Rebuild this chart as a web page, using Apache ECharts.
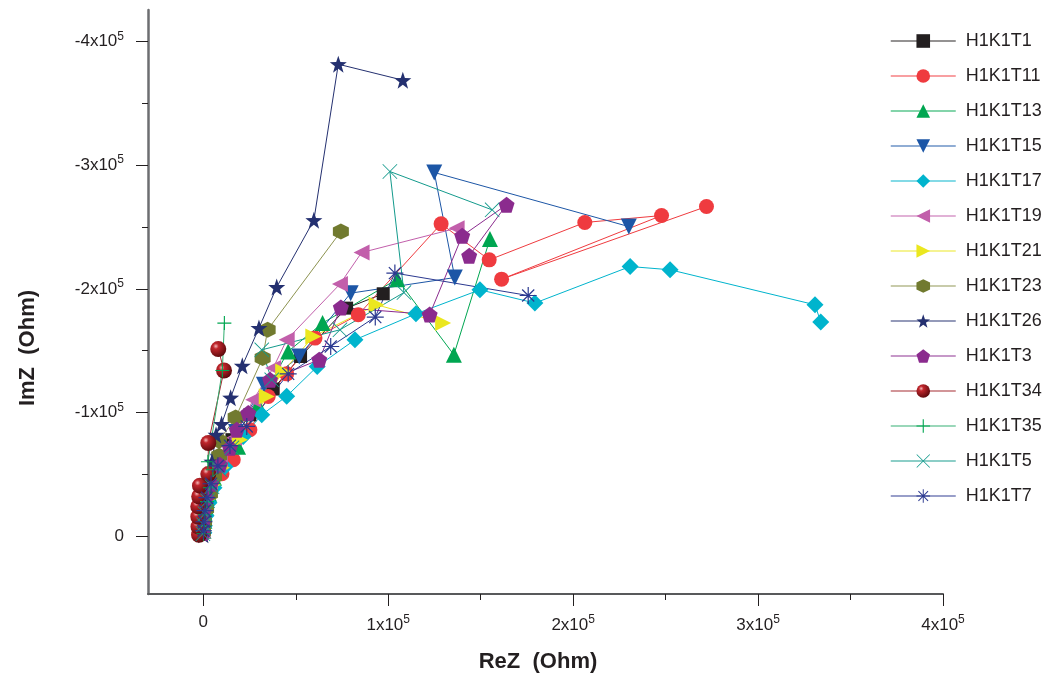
<!DOCTYPE html>
<html>
<head>
<meta charset="utf-8">
<script src="https://cdn.jsdelivr.net/npm/echarts@6/dist/echarts.min.js"></script>
<style>
  html, body { margin: 0; padding: 0; background: #fff; }
  #chart { width: 1046px; height: 677px; }
</style>
</head>
<body>
<div id="chart"></div>
<script>
// Nyquist data, ReZ / ImZ in Ohm
const names = ["H1K1T1", "H1K1T11", "H1K1T13", "H1K1T15", "H1K1T17", "H1K1T19", "H1K1T21",
  "H1K1T23", "H1K1T26", "H1K1T3", "H1K1T34", "H1K1T35", "H1K1T5", "H1K1T7"];

const t1Re = [100, 400, 900, 2000, 4700, 9000, 15500, 25200, 37800, 52600, 77500, 97300];
const t1Im = [-5300, -11800, -21500, -33600, -47300, -61900, -78100, -98200, -119000, -145300, -184400, -196000];

const t11Re = [100, 400, 1200, 2500, 4700, 10100, 16200, 25200, 35100, 45100, 60400, 83800, 128600, 154600, 206300, 247800, 161300, 272100];
const t11Im = [-3700, -10200, -19100, -29600, -41700, -50600, -61900, -86100, -113000, -131300, -160200, -179000, -252500, -223400, -253600, -259200, -207800, -266500];

const t13Re = [100, 600, 1500, 3100, 5800, 10100, 18800, 29600, 45900, 64500, 104900, 135500, 155000];
const t13Im = [-4500, -12600, -23100, -34400, -47300, -60300, -72400, -106300, -149400, -172300, -207800, -146700, -240200];

const t15Re = [100, 400, 900, 2000, 4200, 7900, 17700, 32800, 51900, 79700, 136000, 124900, 230100];
const t15Im = [-3700, -11000, -20700, -32000, -44100, -60300, -84400, -122500, -145300, -196500, -209100, -294000, -250300];

const t17Re = [300, 600, 1500, 3100, 5800, 11700, 21600, 31600, 45100, 61600, 82000, 115000, 149600, 179300, 230800, 252400, 330800, 333900];
const t17Im = [-2900, -8600, -16600, -27100, -39300, -56200, -80700, -98200, -113200, -137200, -158800, -179800, -199200, -188500, -218000, -215400, -187100, -173100];

const t19Re = [-400, -700, -200, 900, 3600, 9000, 16600, 27000, 37800, 45100, 73900, 85600, 137000];
const t19Im = [-4500, -11800, -21500, -32800, -44100, -60300, -79700, -110300, -136000, -158800, -203800, -229300, -249000];

const t21Re = [100, 600, 1500, 2800, 5200, 10100, 19800, 34300, 43200, 59500, 93700, 129700];
const t21Im = [-3700, -11000, -19900, -30400, -41700, -55400, -78000, -113000, -133200, -161500, -187100, -172300];

const t23Re = [-200, 400, 1500, 3600, 5800, 8600, 8500, 17500, 32100, 34800, 74400];
const t23Im = [-3700, -11800, -22300, -34400, -48100, -65100, -77200, -96000, -144000, -166900, -246300];

const t26Re = [0, 100, 400, 1200, 2500, 4700, 6900, 9900, 14800, 21100, 30100, 39700, 59800, 73000, 107900];
const t26Im = [-1300, -6900, -15000, -25500, -37600, -60300, -82000, -90700, -112000, -137800, -168300, -201400, -255500, -381500, -368600];

const t3Re = [-200, -400, 100, 1500, 4200, 9000, 14400, 18100, 24300, 36100, 62700, 74400, 122400, 140000, 164000, 143800];
const t3Im = [-2900, -10200, -19900, -31200, -42500, -57800, -71500, -86100, -99600, -126500, -142700, -184900, -179200, -242800, -267900, -226700];

const t34Re = [-2300, -2600, -2700, -2700, -2200, -1800, 2700, 2700, 11200, 8100];
const t34Im = [-1300, -7800, -15800, -24200, -32200, -40900, -50300, -75400, -134000, -151300];

const t35Re = [100, 400, 900, 2000, 3600, 5200, 2500, 10300, 11400];
const t35Im = [-2100, -8600, -17400, -28000, -39300, -53800, -60300, -134000, -172300];

const t5Re = [-200, 100, 900, 2300, 4700, 9000, 15500, 37000, 31600, 73900, 108500, 100900, 156200];
const t5Im = [-2100, -9400, -18300, -28800, -40100, -53800, -71500, -126500, -150700, -166900, -197000, -294800, -263800];

const t7Re = [100, 400, 900, 2000, 4200, 7900, 14400, 23500, 45900, 68900, 93000, 103600, 175700];
const t7Im = [-4500, -11800, -20700, -31200, -42500, -57000, -73300, -88800, -131300, -153400, -177200, -212700, -194600];

const reSets = [t1Re, t11Re, t13Re, t15Re, t17Re, t19Re, t21Re, t23Re, t26Re, t3Re, t34Re, t35Re, t5Re, t7Re];
const imSets = [t1Im, t11Im, t13Im, t15Im, t17Im, t19Im, t21Im, t23Im, t26Im, t3Im, t34Im, t35Im, t5Im, t7Im];

const xMajor = [0, 100000, 200000, 300000, 400000];
const xMinor = [50000, 150000, 250000, 350000];
const yMajor = [-400000, -300000, -200000, -100000, 0];
const yMinor = [-350000, -250000, -150000, -50000];

// marker shapes (Origin style)
const SYM = {
  square: "rect",
  circle: "circle",
  up: "path://M10,0L20,17L0,17Z",
  down: "path://M0,0L20,0L10,17Z",
  left: "path://M0,10L17,0L17,20Z",
  right: "path://M0,0L17,10L0,20Z",
  diamond: "path://M10,0L20,10L10,20L0,10Z",
  hexagon: "path://M10,0L18.66,5L18.66,15L10,20L1.34,15L1.34,5Z",
  star: "path://M10,0L12.35,6.76L19.51,6.91L13.8,11.24L15.88,18.09L10,14L4.12,18.09L6.2,11.24L0.49,6.91L7.65,6.76Z",
  pentagon: "path://M10,0L19.51,6.91L15.88,18.09L4.12,18.09L0.49,6.91Z",
  plus: "path://M9.2,0H10.8V9.2H20V10.8H10.8V20H9.2V10.8H0V9.2H9.2Z",
  cross: "path://M0,0.8L0.8,0L20,19.2L19.2,20ZM19.2,0L20,0.8L0.8,20L0,19.2Z",
  asterisk: "path://M0,9.3H20V10.7H0ZM9.3,0H10.7V20H9.3ZM2.4,3.4L3.4,2.4L17.6,16.6L16.6,17.6ZM16.6,2.4L17.6,3.4L3.4,17.6L2.4,16.6Z"
};

const sphere = new echarts.graphic.RadialGradient(0.35, 0.32, 0.7, [
  { offset: 0, color: "#f3b9b9" },
  { offset: 0.25, color: "#c0262c" },
  { offset: 1, color: "#5e0a0d" }
]);

const styles = [
  { symbol: SYM.square, size: 13, color: "#231f20", line: "#231f20" },
  { symbol: SYM.circle, size: 15, color: "#ef3b3f", line: "#ef3b3f" },
  { symbol: SYM.up, size: 16, color: "#00a651", line: "#00a651" },
  { symbol: SYM.down, size: 16, color: "#1c56a6", line: "#1c56a6" },
  { symbol: SYM.diamond, size: 17, color: "#00b4cd", line: "#00b4cd" },
  { symbol: SYM.left, size: 16, color: "#c25fab", line: "#c25fab" },
  { symbol: SYM.right, size: 16, color: "#ebe71f", line: "#ebe71f" },
  { symbol: SYM.hexagon, size: 16, color: "#717a2f", line: "#8d9350" },
  { symbol: SYM.star, size: 17, color: "#243070", line: "#243070" },
  { symbol: SYM.pentagon, size: 16, color: "#8b2b8e", line: "#8b2b8e" },
  { symbol: SYM.circle, size: 16, color: sphere, line: "#a3262b" },
  { symbol: SYM.plus, size: 14, color: "#00a651", line: "#2fae6f" },
  { symbol: SYM.cross, size: 15, color: "#139a8c", line: "#139a8c" },
  { symbol: SYM.asterisk, size: 17, color: "#2b3990", line: "#2b3990" }
];

const series = names.map((name, i) => ({
  name: name,
  type: "line",
  data: reSets[i].map((re, j) => [re, imSets[i][j]]),
  symbol: styles[i].symbol,
  symbolSize: styles[i].size,
  showAllSymbol: true,
  itemStyle: { color: styles[i].color },
  lineStyle: { color: styles[i].line, width: 1 },
  emphasis: { disabled: true }
}));

function sciLabel(v) {
  if (v === 0) return "{b|0}";
  const m = Math.round(Math.abs(v) / 100000);
  return "{b|" + (v < 0 ? "-" : "") + m + "x10}{s|5}";
}

const labelRich = {
  b: { fontSize: 17, color: "#231f20", fontFamily: "Liberation Sans" },
  s: { fontSize: 12, color: "#231f20", fontFamily: "Liberation Sans", padding: [0, 0, 10, 0] }
};

const xMin = -29900, xMax = 400000;
const yMin = -425300, yMax = 46600;

const chart = echarts.init(document.getElementById("chart"));
chart.setOption({
  animation: false,
  backgroundColor: "#fff",
  grid: { left: 148, top: 10, width: 795, height: 584 },
  legend: {
    orient: "vertical",
    left: 890,
    top: 32,
    padding: 0,
    itemWidth: 65,
    itemHeight: 17,
    itemGap: 17,
    selectedMode: false,
    lineStyle: { opacity: 0.65, width: 1.5 },
    textStyle: { fontSize: 18, color: "#231f20", fontFamily: "Liberation Sans", padding: [0, 0, 0, 5] },
    data: names
  },
  xAxis: [
    {
      type: "value", min: xMin, max: xMax,
      axisLine: { onZero: false, lineStyle: { color: "#58595b", width: 2 } },
      axisTick: { inside: false, length: 12, lineStyle: { color: "#231f20", width: 1 }, customValues: xMajor },
      axisLabel: { margin: 20, formatter: sciLabel, rich: labelRich, customValues: xMajor },
      splitLine: { show: false }
    },
    {
      type: "value", min: xMin, max: xMax, position: "bottom",
      axisLine: { show: false, onZero: false },
      axisTick: { inside: false, length: 6, lineStyle: { color: "#231f20", width: 1 }, customValues: xMinor },
      axisLabel: { show: false },
      splitLine: { show: false }
    }
  ],
  yAxis: [
    {
      type: "value", min: yMin, max: yMax, inverse: true,
      axisLine: { show: true, onZero: false, lineStyle: { color: "#6d6e71", width: 2.5 } },
      axisTick: { show: true, inside: false, length: 12, lineStyle: { color: "#231f20", width: 1 }, customValues: yMajor },
      axisLabel: { margin: 24, formatter: sciLabel, rich: labelRich, customValues: yMajor },
      splitLine: { show: false }
    },
    {
      type: "value", min: yMin, max: yMax, inverse: true, position: "left",
      axisLine: { show: false, onZero: false },
      axisTick: { show: true, inside: false, length: 6, lineStyle: { color: "#231f20", width: 1 }, customValues: yMinor },
      axisLabel: { show: false },
      splitLine: { show: false }
    }
  ],
  graphic: [
    {
      type: "text", x: 28, y: 348, rotation: Math.PI / 2,
      style: { text: "ImZ  (Ohm)", font: "bold 22px 'Liberation Sans'", fill: "#231f20", align: "center", verticalAlign: "middle" }
    },
    {
      type: "text", x: 538, y: 662,
      style: { text: "ReZ  (Ohm)", font: "bold 22px 'Liberation Sans'", fill: "#231f20", align: "center", verticalAlign: "middle" }
    }
  ],
  series: series
});
</script>
</body>
</html>
